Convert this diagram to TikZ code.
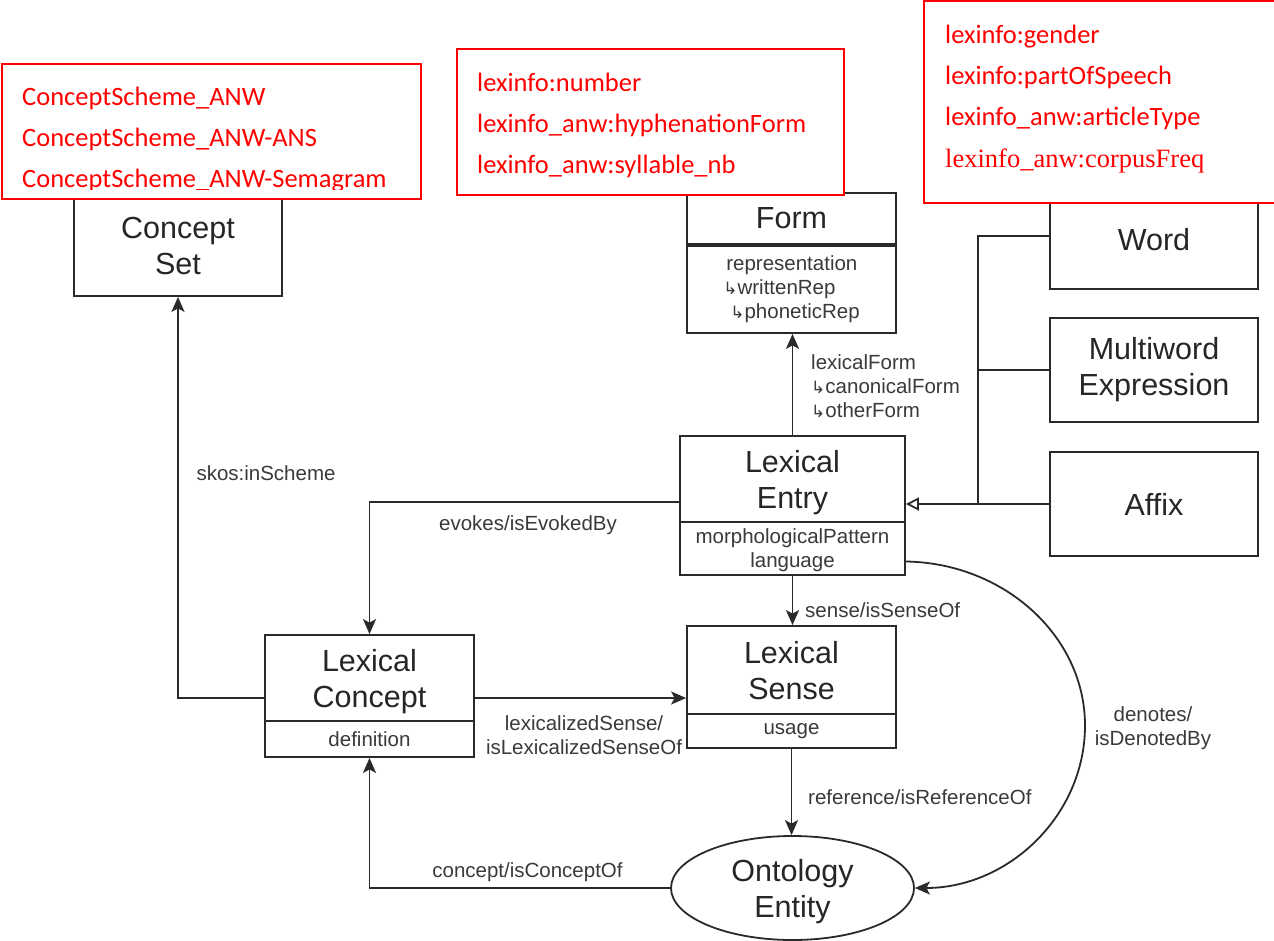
\documentclass[tikz,border=0pt]{standalone}
\usepackage{fontspec}
\setmainfont{Liberation Sans}
\newfontfamily\redfont{Carlito}
\newfontfamily\redserif{Liberation Serif}
\newfontfamily\arrowglyphfont{DejaVu Sans}
\usetikzlibrary{arrows.meta,shapes.geometric}
\definecolor{boxc}{HTML}{2A2A2A}
\definecolor{txtc}{HTML}{262626}
\definecolor{lblc}{HTML}{3A3A3A}
\definecolor{redc}{HTML}{FF0000}
\newcommand{\mainfs}{\fontsize{30.5}{36}\selectfont}
\newcommand{\lblfs}{\fontsize{20.5}{24}\selectfont}
\newcommand{\redfs}{\redfont\fontsize{26.5}{32}\selectfont}
\newcommand{\hookarr}{{\arrowglyphfont\fontsize{17}{24}\selectfont ↳}}
\tikzset{
  box/.style={draw=boxc, line width=1.8pt, fill=white, inner sep=0pt, font=\mainfs, text=txtc, align=center},
  lowtext/.style={text depth=0pt},
  attrbox/.style={box, font=\lblfs, text=lblc},
  lbl/.style={text=lblc, font=\lblfs, inner sep=0pt, align=center},
  redbox/.style={draw=redc, line width=1.9pt, fill=white, inner sep=0pt},
  redtxt/.style={text=redc, font=\redfs, anchor=base west, inner sep=0pt},
  conn/.style={draw=boxc, line width=1.8pt, -{Stealth[length=15pt, width=13pt, inset=3.5pt]}},
  genl/.style={draw=boxc, line width=1.8pt},
  genarrow/.style={genl, -{Triangle[open, length=13pt, width=13pt, line width=1.8pt]}}
}
\begin{document}
\begin{tikzpicture}[x=1pt, y=-1pt]
\useasboundingbox (0,0) rectangle (1274,940);

% boxes partly under the red notes
\node[box, minimum width=208pt, minimum height=100pt] (cset) at (178,246) {Concept\\Set};
\node[box, lowtext, minimum width=209pt, minimum height=51pt] (form) at (791.5,218.5) {Form};
\node[attrbox, minimum width=209pt, minimum height=87pt, align=left] (formattr) at (791.5,289.5)
  {\hspace*{3pt}representation\\\hookarr writtenRep\\\hspace*{7pt}\hookarr phoneticRep};
\node[box, minimum width=208pt, minimum height=99pt] (word) at (1154,239.5) {Word};

% red notes
\node[redbox, minimum width=419pt, minimum height=135pt] (rb1) at (211.5,131.5) {};
\node[redtxt] (rb1a) at (22,105) {ConceptScheme\_ANW};
\node[redtxt] (rb1b) at (22,146) {ConceptScheme\_ANW-ANS};
\begin{scope}
  \clip (0,0) rectangle (1274,189);
  \node[redtxt] (rb1c) at (22,187) {ConceptScheme\_ANW-Semagram};
\end{scope}

\node[redbox, minimum width=387pt, minimum height=146pt] (rb2) at (650.5,122) {};
\node[redtxt] (rb2a) at (477,91) {lexinfo:number};
\node[redtxt] (rb2b) at (477,132) {lexinfo\_anw:hyphenationForm};
\node[redtxt] (rb2c) at (477,173) {lexinfo\_anw:syllable\_nb};

\node[redbox, minimum width=366pt, minimum height=202pt] (rb3) at (1107,102) {};
\node[redtxt] (rb3a) at (945,43) {lexinfo:gender};
\node[redtxt] (rb3b) at (945,84) {lexinfo:partOfSpeech};
\node[redtxt] (rb3c) at (945,125) {lexinfo\_anw:articleType};
\node[redtxt, font=\redserif\fontsize{26.5}{32}\selectfont] (rb3d) at (945,167) {lexinfo\_anw:corpusFreq};

% other boxes
\node[box, minimum width=208pt, minimum height=104pt] (multi) at (1154,370) {Multiword\\Expression};
\node[box, minimum width=208pt, minimum height=104pt] (affix) at (1154,504) {Affix};

\node[box, lowtext, minimum width=225pt, minimum height=86pt] (lentry) at (792.5,479) {Lexical\\Entry};
\node[attrbox, lowtext, minimum width=225pt, minimum height=53pt] (lentryattr) at (792.5,548.5) {morphologicalPattern\\language};

\node[box, lowtext, minimum width=209pt, minimum height=89pt] (lsense) at (791.5,670.5) {Lexical\\Sense};
\node[attrbox, minimum width=209pt, minimum height=34pt] (lsenseattr) at (791.5,731) {usage};

\node[box, lowtext, minimum width=209pt, minimum height=87pt] (lconc) at (369.5,678.5) {Lexical\\Concept};
\node[attrbox, minimum width=209pt, minimum height=36pt] (lconcattr) at (369.5,739) {definition};

\node[box, lowtext, ellipse, minimum width=243pt, minimum height=104pt] (onto) at (792.5,888) {Ontology\\Entity};

% connectors
\draw[conn] (lentry.north) -- (lentry.north |- formattr.south);
\draw[conn] (lentryattr.south) -- (lentryattr.south |- lsense.north);
\draw[conn] ([yshift=-23pt]lentry.west) -| (lconc.north);
\draw[conn] ([yshift=-19.5pt]lconc.west) -| (cset.south);
\draw[conn] ([yshift=-19.5pt]lconc.east) coordinate (lcx) -- (lcx -| lsense.west);
\draw[conn] (lsenseattr.south) -- (lsenseattr.south |- onto.north);
\draw[conn] (onto.west) -| (lconcattr.south);
\draw[conn] ([yshift=-13pt]lentryattr.east) coordinate (den)
  .. controls (1004,563) and (1085,636) .. (1085,725.5)
  .. controls (1085,815) and (1009,888) .. (onto.east);

% generalization
\coordinate (gj) at (978,504);
\draw[genarrow] (affix.west) -- (affix.west -| lentry.east);
\draw[genl] ([yshift=3.5pt]word.west) -| (gj);
\draw[genl] (multi.west) -- (multi.west -| gj);

% labels
\node[lbl] (lskos) at (266,473) {skos:inScheme};
\node[lbl] (levokes) at (528,525) {evokes/isEvokedBy};
\node[lbl] (llexsense) at (584,735.5) {lexicalizedSense/\\isLexicalizedSenseOf};
\node[lbl, anchor=west] (lsenseof) at (805,610) {sense/isSenseOf};
\node[lbl, anchor=west, align=left] (lform) at (811,386) {lexicalForm\\\hookarr canonicalForm\\\hookarr otherForm};
\node[lbl, anchor=west] (lref) at (808,797) {reference/isReferenceOf};
\node[lbl] (lconcof) at (527.5,872) {concept/isConceptOf};
\node[lbl] (ldenotes) at (1153,728.5) {denotes/\\isDenotedBy};
\end{tikzpicture}
\end{document}
